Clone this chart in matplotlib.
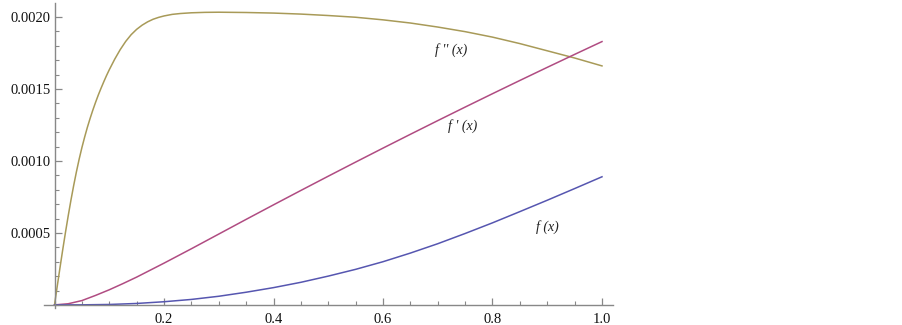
import matplotlib
matplotlib.use("Agg")
import matplotlib.pyplot as plt
from matplotlib.ticker import MultipleLocator, FixedLocator

plt.rcParams["font.family"] = ["Liberation Serif", "DejaVu Serif"]

# ---- data ----
x_f2 = [0, 0.005, 0.010, 0.015, 0.020, 0.025, 0.030, 0.035, 0.040, 0.045,
        0.050, 0.055, 0.060, 0.065, 0.070, 0.075, 0.080, 0.085, 0.090, 0.095,
        0.100, 0.110, 0.120, 0.130, 0.140, 0.150, 0.160, 0.170, 0.180, 0.190,
        0.200, 0.215, 0.230, 0.250, 0.275, 0.30, 0.35, 0.40, 0.45, 0.50,
        0.55, 0.60, 0.65, 0.70, 0.75, 0.80, 0.85, 0.90, 0.95, 1.00]
y_f2 = [0, 0.130, 0.258, 0.383, 0.503, 0.618, 0.727, 0.829, 0.924, 1.012,
        1.092, 1.165, 1.233, 1.295, 1.353, 1.407, 1.458, 1.505, 1.550, 1.593,
        1.633, 1.707, 1.773, 1.830, 1.877, 1.914, 1.943, 1.966, 1.984, 1.997,
        2.007, 2.018, 2.024, 2.029, 2.032, 2.033, 2.031, 2.027, 2.020, 2.010,
        1.998, 1.980, 1.958, 1.930, 1.898, 1.860, 1.815, 1.765, 1.715, 1.66]

x_f1 = [0, 0.025, 0.05, 0.075, 0.10, 0.125, 0.15, 0.20, 0.25, 0.30,
        0.35, 0.40, 0.45, 0.50, 0.55, 0.60, 0.65, 0.70, 0.75, 0.80,
        0.85, 0.90, 0.95, 1.00]
y_f1 = [0, 0.008, 0.030, 0.066, 0.105, 0.148, 0.193, 0.290, 0.390, 0.492,
        0.594, 0.695, 0.795, 0.894, 0.992, 1.089, 1.185, 1.280, 1.374, 1.467,
        1.559, 1.650, 1.740, 1.829]

x_f0 = [0, 0.05, 0.10, 0.15, 0.20, 0.25, 0.30, 0.35, 0.40, 0.45, 0.50,
        0.55, 0.60, 0.65, 0.70, 0.75, 0.80, 0.85, 0.90, 0.95, 1.00]
y_f0 = [0, 0.0005, 0.003, 0.010, 0.022, 0.038, 0.060, 0.088, 0.120, 0.157, 0.200,
        0.247, 0.300, 0.360, 0.425, 0.496, 0.570, 0.648, 0.727, 0.808, 0.890]

scale = 1e-3
x_ticks = [0.2, 0.4, 0.6, 0.8, 1.0]
x_labels = ["0.2", "0.4", "0.6", "0.8", "1.0"]
y_ticks = [0.0005, 0.0010, 0.0015, 0.0020]
y_labels = ["0.0005", "0.0010", "0.0015", "0.0020"]

labels = ["f '' (x)", "f ' (x)", "f (x)"]
label_pos = [(0.724, 0.00177), (0.745, 0.001243), (0.90, 0.000544)]

# ---- plot ----
fig = plt.figure(figsize=(9.02, 3.25), dpi=100)
ax = fig.add_axes([43.5 / 902, (325 - 308) / 325, (613 - 43.5) / 902, (308 - 3) / 325])

c_blue = "#5656b0"
c_pink = "#b04c82"
c_olive = "#a89a58"

ax.plot(x_f2, [v * scale for v in y_f2], color=c_olive, lw=1.1)
ax.plot(x_f1, [v * scale for v in y_f1], color=c_pink, lw=1.1)
ax.plot(x_f0, [v * scale for v in y_f0], color=c_blue, lw=1.1)

ax.set_xlim(-0.0201, 1.0201)
ax.set_ylim(-0.0000215, 0.002097)

for s in ["top", "right"]:
    ax.spines[s].set_visible(False)
ax.spines["left"].set_position(("data", 0))
ax.spines["bottom"].set_position(("data", 0))
for s in ["left", "bottom"]:
    ax.spines[s].set_color("#888888")
    ax.spines[s].set_linewidth(1.0)

ax.xaxis.set_major_locator(FixedLocator(x_ticks))
ax.set_xticklabels(x_labels)
ax.xaxis.set_minor_locator(MultipleLocator(0.05))
ax.yaxis.set_major_locator(FixedLocator(y_ticks))
ax.set_yticklabels(y_labels)
ax.yaxis.set_minor_locator(MultipleLocator(0.0001))

ax.tick_params(axis="both", which="major", direction="in", length=5, width=0.9,
               color="#888888", labelsize=10.5, labelcolor="#111111")
ax.tick_params(axis="both", which="minor", direction="in", length=3, width=0.8,
               color="#888888")
ax.tick_params(axis="y", which="major", pad=3)
ax.tick_params(axis="x", which="major", pad=6)

for t, (px, py) in zip(labels, label_pos):
    ax.text(px, py, t, fontstyle="italic",
            fontsize=10, ha="center", va="center", color="#222222")

fig.savefig("out.png", dpi=100)
